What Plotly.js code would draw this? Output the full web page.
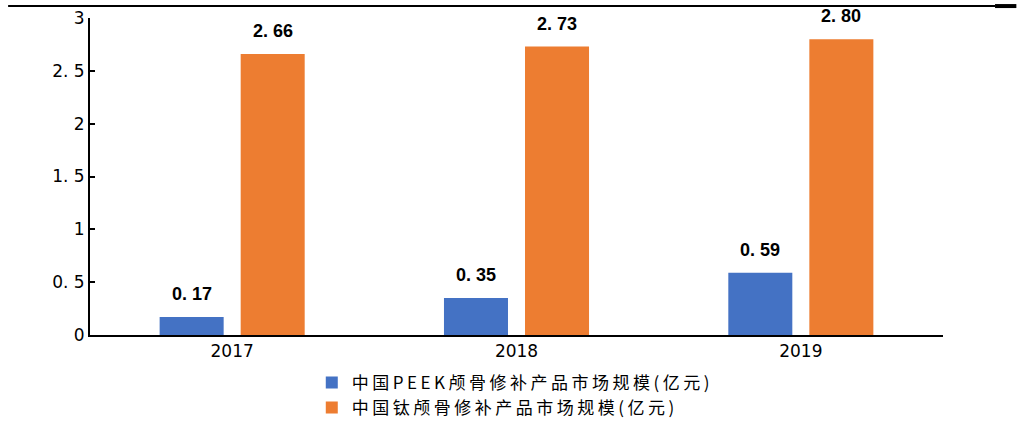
<!DOCTYPE html>
<html>
<head>
<meta charset="utf-8">
<script src="https://cdn.plot.ly/plotly-3.0.1.min.js"></script>
<style>
  html, body { margin: 0; padding: 0; background: #fff; overflow: hidden; }
  #graph { width: 1024px; height: 430px; }
</style>
</head>
<body>
<div id="graph"></div>
<script>
// data
var years = ['2017', '2018', '2019'];
var peekValues = [0.17, 0.35, 0.59];
var titaniumValues = [2.66, 2.73, 2.80];
var seriesNames = ['中国PEEK颅骨修补产品市场规模(亿元)', '中国钛颅骨修补产品市场规模(亿元)'];
var seriesColors = ['#4472C4', '#ED7D31'];
var yTicks = [0, 0.5, 1, 1.5, 2, 2.5, 3];
var yTickText = ['0', '0. 5', '1', '1. 5', '2', '2. 5', '3'];

var tickFont = 'DejaVu Sans, Noto Sans CJK SC, sans-serif';
var labelFont = 'Liberation Sans, Noto Sans CJK SC, sans-serif';
var cjkFont = 'Noto Sans CJK SC, sans-serif';

var allValues = [peekValues, titaniumValues];

var traces = allValues.map(function (vals, i) {
    return {
        type: 'bar',
        x: years,
        y: vals,
        // the legend in the reference is set with wide letter spacing
        name: '<span style="letter-spacing:3.5px">' + seriesNames[i] + '</span>',
        marker: { color: seriesColors[i] }
    };
});

// value labels above the bars, a bit higher than textposition outside puts them
var annotations = [];
allValues.forEach(function (vals, i) {
    vals.forEach(function (v, j) {
        annotations.push({
            x: j,
            y: v,
            xref: 'x',
            yref: 'y',
            text: '<b>' + v.toFixed(2).replace('.', '. ') + '</b>',
            showarrow: false,
            xshift: i === 0 ? -40.5 : 40.5,
            yshift: 11,
            yanchor: 'bottom',
            font: { family: labelFont, size: 18, color: '#000' }
        });
    });
});

// the graph is a few px taller than the window so the legend's bottom padding
// does not push the bottom margin up; the extra strip is blank and cut off
var layout = {
    width: 1024,
    height: 430,
    margin: { l: 90, r: 81, t: 18, b: 0 },
    paper_bgcolor: '#fff',
    plot_bgcolor: '#fff',
    barmode: 'group',
    bargap: 0.43,
    bargroupgap: 0.21,
    showlegend: true,
    legend: {
        x: 0.26,
        y: 0.158,
        xanchor: 'left',
        yanchor: 'top',
        font: { family: cjkFont, size: 17, color: '#000' }
    },
    xaxis: {
        type: 'category',
        showline: true,
        linecolor: '#000',
        linewidth: 2,
        tickfont: { family: tickFont, size: 17, color: '#000' },
        showgrid: false
    },
    yaxis: {
        domain: [0.2306, 1],
        range: [0, 3],
        tickvals: yTicks,
        ticktext: yTickText,
        showline: true,
        linecolor: '#000',
        linewidth: 2,
        ticks: 'inside',
        ticklen: 5,
        tickwidth: 2,
        tickcolor: '#000',
        tickfont: { family: tickFont, size: 17, color: '#000' },
        showgrid: false,
        zeroline: false
    },
    annotations: annotations,
    shapes: [
        // rule along the top of the image
        { type: 'line', xref: 'paper', yref: 'paper', x0: -0.096, x1: 1.061, y0: 1.029, y1: 1.029,
          line: { color: '#000', width: 2 } },
        { type: 'line', xref: 'paper', yref: 'paper', x0: 1.061, x1: 1.086, y0: 1.029, y1: 1.029,
          line: { color: '#000', width: 4 } }
    ]
};

Plotly.newPlot('graph', traces, layout, { displayModeBar: false });
</script>
</body>
</html>
